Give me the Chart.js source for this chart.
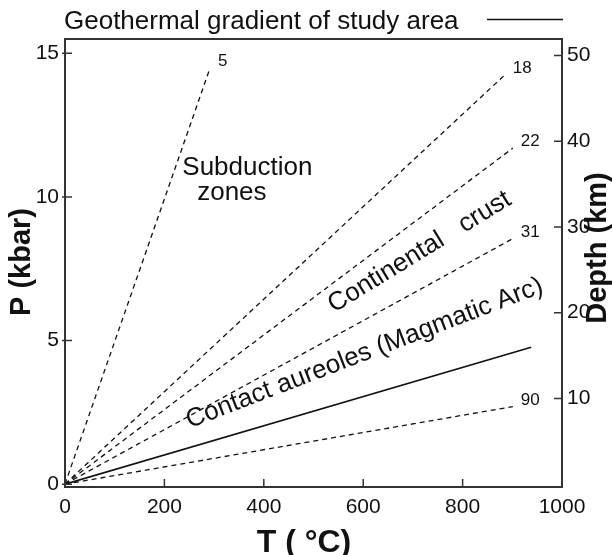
<!DOCTYPE html>
<html>
<head>
<meta charset="utf-8">
<script src="https://cdn.jsdelivr.net/npm/chart.js@4.4.1/dist/chart.umd.min.js"></script>
<style>
  html, body { margin: 0; padding: 0; background: #fff; }
  #wrap { width: 612px; height: 555px; }
</style>
</head>
<body>
<div id="wrap"><canvas id="ptChart"></canvas></div>
<script>
// Geotherms: every line runs from the origin to its end point.
const gradientLabels = ['5', '18', '22', '31', '90'];
const gradientEndT = [292, 885, 901, 901, 901];
const gradientEndP = [14.5, 14.25, 11.7, 8.55, 2.7];

// Geothermal gradient of the study area (solid line)
const studyT = [0, 938];
const studyP = [0, 4.77];

const tTicks = [0, 200, 400, 600, 800, 1000];
const pTicks = [0, 5, 10, 15];
const depthTicks = [10, 20, 30, 40, 50];
const kmPerKbar = 3.35;

const FONT = "'Liberation Sans', Arial, Helvetica, sans-serif";
const INK = '#111';

const pMin = -0.1;
const pMax = 15.5;

// text labels placed in data coordinates (T, P)
const fieldLabels = [
  { text: 'Subduction', t: 236, p: 10.76, angle: 0 },
  { text: 'zones', t: 266, p: 9.9, angle: 0 },
  { text: 'Continental   crust', t: 541, p: 5.96, angle: -31.5 },
  { text: 'Contact aureoles (Magmatic Arc)', t: 251, p: 1.95, angle: -21 },
];

const datasets = gradientLabels.map((lbl, i) => ({
  label: lbl,
  data: [{ x: 0, y: 0 }, { x: gradientEndT[i], y: gradientEndP[i] }],
  showLine: true,
  borderColor: INK,
  borderWidth: 1.3,
  borderDash: [5, 4],
  pointRadius: 0,
}));
datasets.push({
  label: 'Geothermal gradient of study area',
  data: studyT.map((t, i) => ({ x: t, y: studyP[i] })),
  showLine: true,
  borderColor: INK,
  borderWidth: 1.6,
  pointRadius: 0,
});

// box, inward tick marks, line labels and titles drawn on top of the chart
const figureDecor = {
  id: 'figureDecor',
  afterDraw(chart) {
    const { ctx, chartArea: a, scales } = chart;
    ctx.save();
    ctx.strokeStyle = '#333';
    ctx.lineWidth = 2;
    ctx.strokeRect(a.left, a.top, a.right - a.left, a.bottom - a.top);

    ctx.lineWidth = 1.5;
    ctx.beginPath();
    tTicks.slice(1, -1).forEach(v => {
      const x = scales.x.getPixelForValue(v);
      ctx.moveTo(x, a.bottom);
      ctx.lineTo(x, a.bottom - 8);
    });
    pTicks.forEach(v => {
      const y = scales.y.getPixelForValue(v);
      ctx.moveTo(a.left - 3, y);
      ctx.lineTo(a.left + 7, y);
    });
    depthTicks.forEach(v => {
      const y = scales.y2.getPixelForValue(v);
      ctx.moveTo(a.right - 8, y);
      ctx.lineTo(a.right, y);
    });
    ctx.stroke();

    ctx.fillStyle = INK;
    // gradient numbers at the line ends
    ctx.font = `17px ${FONT}`;
    ctx.textAlign = 'left';
    ctx.textBaseline = 'bottom';
    gradientLabels.forEach((lbl, i) => {
      const x = scales.x.getPixelForValue(gradientEndT[i]);
      const y = scales.y.getPixelForValue(gradientEndP[i]);
      ctx.fillText(lbl, x + 8, y + 2);
    });

    // field names
    ctx.font = `26px ${FONT}`;
    ctx.textBaseline = 'alphabetic';
    fieldLabels.forEach(f => {
      ctx.save();
      ctx.translate(scales.x.getPixelForValue(f.t), scales.y.getPixelForValue(f.p));
      ctx.rotate(f.angle * Math.PI / 180);
      ctx.fillText(f.text, 0, 0);
      ctx.restore();
    });

    // legend line on top
    ctx.font = `26px ${FONT}`;
    ctx.fillText('Geothermal gradient of study area', 64, 29);
    ctx.lineWidth = 1.6;
    ctx.strokeStyle = INK;
    ctx.beginPath();
    ctx.moveTo(487, 19.5);
    ctx.lineTo(a.right + 1, 19.5);
    ctx.stroke();

    // axis titles
    ctx.font = `bold 29px ${FONT}`;
    ctx.textAlign = 'center';
    ctx.textBaseline = 'middle';
    ctx.save();
    ctx.translate(22, 262);
    ctx.rotate(-Math.PI / 2);
    ctx.fillText('P (kbar)', 0, 0);
    ctx.restore();
    ctx.save();
    ctx.translate(598, 248);
    ctx.rotate(-Math.PI / 2);
    ctx.fillText('Depth (km)', 0, 0);
    ctx.restore();
    ctx.font = `bold 32px ${FONT}`;
    ctx.textBaseline = 'alphabetic';
    ctx.fillText('T ( °C)', 304, 552);
    ctx.restore();
  },
};

const plainTick = v => String(v);

new Chart(document.getElementById('ptChart'), {
  type: 'scatter',
  data: { datasets },
  options: {
    responsive: true,
    maintainAspectRatio: false,
    animation: false,
    layout: { padding: { top: 39 } },
    plugins: { legend: { display: false }, tooltip: { enabled: false } },
    scales: {
      x: {
        type: 'linear',
        min: 0,
        max: 1000,
        grid: { display: false, drawTicks: false, tickLength: 0 },
        border: { display: false },
        afterBuildTicks: s => { s.ticks = tTicks.map(v => ({ value: v })); },
        afterFit: s => { s.height = 68; },
        ticks: { color: INK, padding: 8, callback: plainTick, font: { family: FONT, size: 21 } },
      },
      y: {
        type: 'linear',
        min: pMin,
        max: pMax,
        grid: { display: false, drawTicks: false, tickLength: 0 },
        border: { display: false },
        afterBuildTicks: s => { s.ticks = pTicks.map(v => ({ value: v })); },
        afterFit: s => { s.width = 65; },
        ticks: { color: INK, padding: 6, callback: plainTick, font: { family: FONT, size: 21 } },
      },
      y2: {
        type: 'linear',
        position: 'right',
        min: pMin * kmPerKbar,
        max: pMax * kmPerKbar,
        grid: { display: false, drawTicks: false, tickLength: 0 },
        border: { display: false },
        afterBuildTicks: s => { s.ticks = depthTicks.map(v => ({ value: v })); },
        afterFit: s => { s.width = 50; },
        ticks: { color: INK, padding: 5, callback: plainTick, font: { family: FONT, size: 21 } },
      },
    },
  },
  plugins: [figureDecor],
});
</script>
</body>
</html>
